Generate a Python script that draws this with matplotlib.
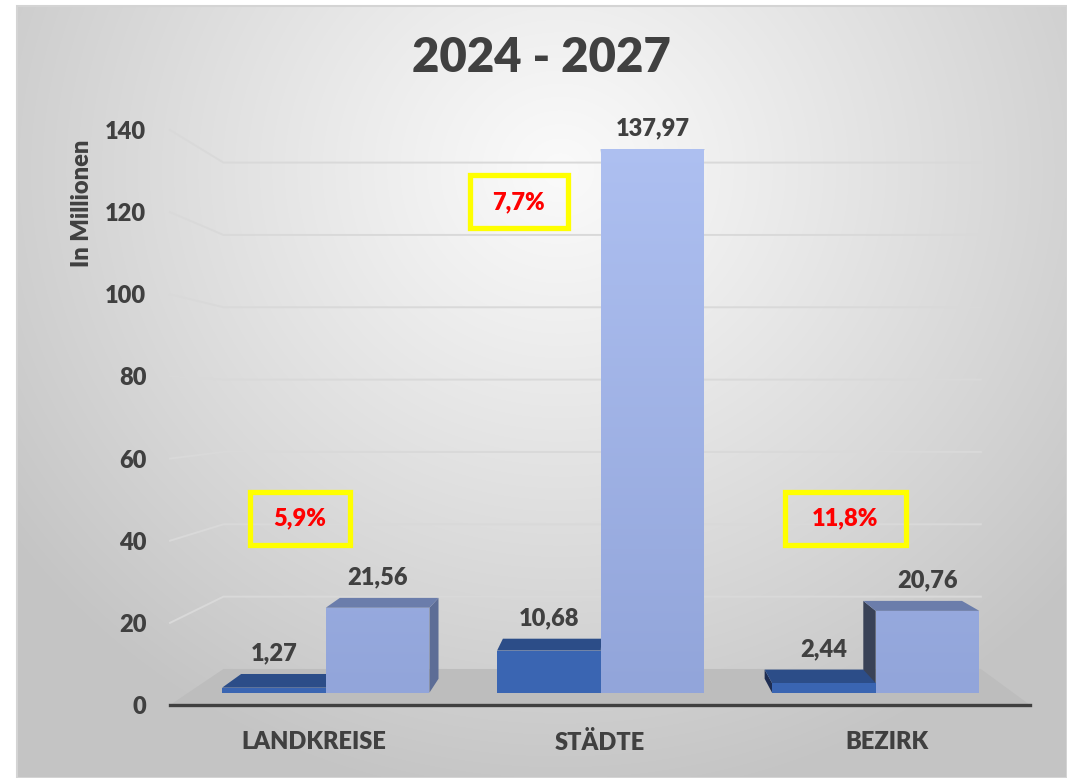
import numpy as np
import matplotlib
matplotlib.use('Agg')
import matplotlib.pyplot as plt
from matplotlib.patches import Polygon, Rectangle

plt.rcParams['font.family'] = ['Lato', 'DejaVu Sans']

# --- data ---
categories = ['LANDKREISE', 'STÄDTE', 'BEZIRK']
series_a = [1.27, 10.68, 2.44]       # dark blue bars
series_b = [21.56, 137.97, 20.76]    # light blue bars
labels_a = ['1,27', '10,68', '2,44']
labels_b = ['21,56', '137,97', '20,76']
growth = ['5,9%', '7,7%', '11,8%']
growth_x = [-0.047, 0.717, 1.855]    # note boxes (category units)
growth_v = [45.5, 122.5, 45.5]       # note boxes (value units)
growth_w = [100, 98, 121]            # box width in px
yticks = [0, 20, 40, 60, 80, 100, 120, 140]
title = '2024 - 2027'
ylabel = 'In Millionen'

TXT = '#404040'
WT = 'heavy'
W, H = 1067, 778
fig = plt.figure(figsize=(W / 100, H / 100), dpi=100)

# background with radial gradient
bg = fig.add_axes([17 / W, 0, 1 - 17 / W, (H - 6) / H])
gx, gy = np.meshgrid(np.arange(17, W), np.arange(6, H))
r = np.sqrt(((gx - 560) / 680.0) ** 2 + ((gy - 170) / 640.0) ** 2)
t = np.clip(r, 0, 1) ** 1.1
inner, outer = np.array([250, 250, 250]), np.array([196, 196, 196])
img = (inner[None, None, :] + (outer - inner)[None, None, :] * t[..., None]) / 255.0
bg.imshow(img, aspect='auto', extent=(0, 1, 0, 1), origin='upper')
bg.add_patch(Rectangle((0, 0), 1, 1, transform=bg.transAxes, fill=False,
                       ec='#d4d4d4', lw=1.5, clip_on=False))
bg.set_axis_off()

# main axes: front plane of the 3d box
ax = fig.add_axes([170 / W, (H - 705) / H, 860 / W, 575 / H])
ax.set_xlim(-0.5, 2.5)
ax.set_ylim(0, 140)
ax.patch.set_visible(False)
for s in ['top', 'right', 'left']:
    ax.spines[s].set_visible(False)
ax.spines['bottom'].set_color(TXT)
ax.spines['bottom'].set_linewidth(2.4)
ax.spines['bottom'].set_zorder(6)

# perspective: vanishing point and depth shrink
VP = (1.063, 73.5)
DK = 0.1193


def proj(x, v, z):
    k = 1 - DK * z
    return VP[0] + k * (x - VP[0]), VP[1] + k * (v - VP[1])


def face(pts, **kw):
    p = Polygon([proj(*q) for q in pts], closed=True, clip_on=False, lw=0, **kw)
    ax.add_patch(p)
    return p


# floor
face([(-0.5, 0, 0), (2.5, 0, 0), (2.5, 0, 1), (-0.5, 0, 1)], fc='#bdbdbd', zorder=1)

# gridlines on left wall and back wall
for tv in yticks[1:]:
    pts = [proj(-0.5, tv, 0), proj(-0.5, tv, 1), proj(2.5, tv, 1)]
    ax.plot([p[0] for p in pts], [p[1] for p in pts], color='#d9d9d9', lw=1.4,
            zorder=0.5, clip_on=False)

zf, zb = 0.343, 0.729
bw = 0.377
dark = dict(front='#3a65b2', top='#2c4d88', right='#223a68', left='#1e2d52')
light = dict(front='#93a6db', top='#6b7dab', right='#5d6d96', left='#394257')
grad_lo, grad_hi = np.array([146, 165, 218]), np.array([174, 192, 241])

x = np.arange(len(categories))
boxes = []
for i in range(len(categories)):
    boxes.append((x[i] - bw, x[i], series_a[i], dark, labels_a[i]))
    boxes.append((x[i], x[i] + bw, series_b[i], light, labels_b[i]))

# sides first, then tops, then fronts
for x0, x1, v, c, _ in boxes:
    if x1 < VP[0]:
        face([(x1, 0, zf), (x1, v, zf), (x1, v, zb), (x1, 0, zb)], fc=c['right'], zorder=2)
    if x0 > VP[0]:
        face([(x0, 0, zf), (x0, v, zf), (x0, v, zb), (x0, 0, zb)], fc=c['left'], zorder=2)
for x0, x1, v, c, _ in boxes:
    face([(x0, v, zf), (x1, v, zf), (x1, v, zb), (x0, v, zb)], fc=c['top'], zorder=3)
for x0, x1, v, c, _ in boxes:
    p = face([(x0, 0, zf), (x1, 0, zf), (x1, v, zf), (x0, v, zf)], fc=c['front'], zorder=4)
    if c is light:
        (px0, py0), (px1, py1) = proj(x0, 0, zf), proj(x1, v, zf)
        n = 200
        ys = np.linspace(py1, py0, n)
        vw = VP[1] + (ys - VP[1]) / (1 - DK * zf)
        f = np.clip(vw / 140.0, 0, 1)[:, None]
        col = (grad_lo + (grad_hi - grad_lo) * f) / 255.0
        im = ax.imshow(col[:, None, :], extent=(px0, px1, py0, py1), aspect='auto',
                       origin='upper', zorder=4.5, clip_on=True)
        im.set_clip_path(p)

# value labels
for x0, x1, v, c, lab in boxes:
    top = max(proj(x0, v, zf)[1], proj(x0, v, zb)[1])
    xc = proj((x0 + x1) / 2, v, zf)[0]
    ax.annotate(lab, (xc, top), xytext=(0, 7), textcoords='offset points',
                ha='center', va='bottom', fontsize=17, fontweight=WT,
                color=TXT, annotation_clip=False, zorder=7)

# growth notes
px_x = 860 / 3.0
px_v = 575 / 140.0
for gx_, gv_, gw_, g in zip(growth_x, growth_v, growth_w, growth):
    wv, hv = gw_ / px_x, 53 / px_v
    ax.add_patch(Rectangle((gx_ - wv / 2, gv_ - hv / 2), wv, hv, fill=False,
                           ec='#ffff00', lw=3.8, clip_on=False, zorder=8))
    ax.text(gx_, gv_, g, ha='center', va='center', fontsize=17, fontweight=WT,
            color='#ff0000', zorder=9)

# axes text
ax.set_yticks(yticks)
ax.set_yticklabels([str(v) for v in yticks])
ax.tick_params(axis='y', length=0, pad=17, labelsize=17, labelcolor=TXT)
ax.set_xticks(x)
ax.set_xticklabels(categories)
ax.tick_params(axis='x', length=0, pad=19, labelsize=17, labelcolor=TXT)
for lb in ax.get_xticklabels() + ax.get_yticklabels():
    lb.set_fontweight(WT)
ax.set_ylabel(ylabel, fontsize=17, fontweight=WT, color=TXT)
ax.yaxis.set_label_coords(-0.0895, 0.873)

fig.text(541 / W, 1 - 58 / H, title, ha='center', va='center', fontsize=34,
         fontweight=WT, color=TXT)

fig.savefig('out.png', dpi=100)
